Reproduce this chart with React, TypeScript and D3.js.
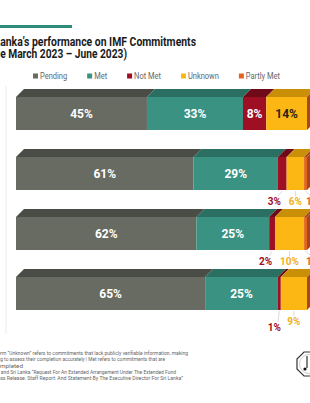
import { useEffect, useRef } from "react";
import * as d3 from "d3";

// rows are the review periods (labels sit outside the visible crop)
const rows = ["Review 1", "Review 2", "Review 3", "Review 4"];
const pending = [45, 61, 62, 65];
const met = [33, 29, 25, 25];
const notMet = [8, 3, 2, 1];
const unknown = [14, 6, 10, 9];
const partlyMet = [0, 1, 1, 0];

const keys = ["Pending", "Met", "Not Met", "Unknown", "Partly Met"];
const frontColors = ["#686b61", "#3a9282", "#9e0f24", "#fdb714", "#e2661f"];
const topColors = ["#4a4d45", "#2b6e62", "#6f0a18", "#c98f07", "#a8481a"];
const labelColors = ["#fff", "#fff", "#9e0f24", "#f2b01c", "#e2661f"];

const titleLines = [
  "Sri Lanka\u2019s performance on IMF Commitments",
  "(Since March 2023 \u2013 June 2023)",
];
const noteLines = [
  "Note: The term \u201CUnknown\u201D refers to commitments that lack publicly verifiable information, making",
  "it challenging to assess their completion accurately | Met refers to commitments that are",
  "completed",
  "Source: IMF and Sri Lanka \u201CRequest For An Extended Arrangement Under The Extended Fund",
  "Facility \u2013 Press Release: Staff Report: And Statement By The Executive Director For Sri Lanka\u201D",
];

const FONT = "Roboto, 'DejaVu Sans', sans-serif";

export default function App() {
  const ref = useRef<SVGSVGElement>(null);

  useEffect(() => {
    const svg = d3.select(ref.current);
    svg.selectAll("*").remove();

    svg.append("rect").attr("width", 310).attr("height", 403).attr("fill", "#fff");

    // draws a text line whose right end sits at rx and whose visible part (from
    // character `cut`) fills width w, squeezing the font to look condensed
    const fitLine = (
      text: string,
      cut: number,
      rx: number,
      by: number,
      w: number,
      size: number,
      weight: string,
      fill: string
    ) => {
      const probe = svg
        .append("text")
        .attr("font-family", FONT)
        .attr("font-size", size)
        .attr("font-weight", weight)
        .text(text.slice(cut));
      const len = (probe.node() as SVGTextElement).getComputedTextLength();
      probe.remove();
      const s = w / len;
      svg
        .append("g")
        .attr("transform", `translate(${rx},${by}) scale(${s},1)`)
        .append("text")
        .attr("text-anchor", "end")
        .attr("font-family", FONT)
        .attr("font-size", size)
        .attr("font-weight", weight)
        .attr("fill", fill)
        .text(text);
    };

    // header accent
    svg.append("rect").attr("x", 0).attr("y", 25).attr("width", 72).attr("height", 3).attr("fill", "#2e8c7b");

    fitLine(titleLines[0], 5, 196, 46, 196, 12.5, "700", "#1b1b1b");
    fitLine(titleLines[1], 5, 127, 58, 127, 12.5, "700", "#1b1b1b");

    // legend
    const legend = svg.append("g").attr("font-family", FONT).attr("font-size", 8.5).attr("fill", "#666");
    let lx = 33;
    keys.forEach((k, i) => {
      legend.append("rect").attr("x", lx).attr("y", 73.5).attr("width", 5).attr("height", 5).attr("fill", frontColors[i]);
      const t = legend.append("text").attr("x", lx + 7).attr("y", 79).text(k);
      const len = (t.node() as SVGTextElement).getComputedTextLength();
      t.attr("transform", `translate(${lx + 7},0) scale(0.88,1) translate(${-(lx + 7)},0)`);
      lx += 7 + len * 0.88 + 20;
    });

    // left rule
    svg.append("line").attr("x1", 6).attr("x2", 6).attr("y1", 86).attr("y2", 334).attr("stroke", "#ececec");

    const table = rows.map((r, i) => ({
      row: r,
      Pending: pending[i],
      Met: met[i],
      "Not Met": notMet[i],
      Unknown: unknown[i],
      "Partly Met": partlyMet[i],
    }));
    const series = d3.stack<any>().keys(keys)(table);

    const x = d3.scaleLinear().domain([0, 100]).range([16, 307]);
    const y = d3.scaleBand<string>().domain(rows).range([97, 310]).paddingInner(0.45);
    const h = y.bandwidth();
    const dx = 8;
    const dy = 8;

    const bars = svg.append("g");
    series.forEach((s, k) => {
      s.forEach((d) => {
        const x0 = x(d[0]);
        const x1 = x(d[1]);
        if (x1 - x0 <= 0) return;
        const y0 = y(d.data.row) as number;
        bars
          .append("path")
          .attr("d", `M${x0},${y0}L${x1},${y0}L${x1 + dx},${y0 - dy}L${x0 + dx},${y0 - dy}Z`)
          .attr("fill", topColors[k]);
        bars.append("rect").attr("x", x0).attr("y", y0).attr("width", x1 - x0).attr("height", h).attr("fill", frontColors[k]);
      });
    });
    // right side face
    rows.forEach((r) => {
      const xe = x(100);
      const y0 = y(r) as number;
      bars
        .append("path")
        .attr("d", `M${xe},${y0}L${xe + dx},${y0 - dy}L${xe + dx},${y0 + h - dy}L${xe},${y0 + h}Z`)
        .attr("fill", topColors[4]);
    });

    // value labels: small segments go below the bar when the row has a tiny slice
    const labels = svg.append("g").attr("font-family", FONT).attr("font-weight", 700);
    series.forEach((s, k) => {
      s.forEach((d, i) => {
        const v = d[1] - d[0];
        if (v <= 0) return;
        const x0 = x(d[0]);
        const x1 = x(d[1]);
        const y0 = y(d.data.row) as number;
        const cx = (x0 + x1) / 2;
        const crowded = Math.min(notMet[i], unknown[i]) < 5;
        if (k < 2 || !crowded) {
          labels
            .append("text")
            .attr("x", cx)
            .attr("y", y0 + h / 2 + 4.5)
            .attr("text-anchor", "middle")
            .attr("font-size", 12)
            .attr("fill", k === 3 ? "#2a2215" : "#fff")
            .text(`${v}%`);
          return;
        }
        const by = y0 + h + (v < 2 && k === 2 ? 21 : 15);
        let tx = cx;
        let anchor = "middle";
        if (k === 2) {
          tx = x0 + 3;
          anchor = "end";
        } else if (k === 4) {
          tx = x0 + 2;
          anchor = "start";
        }
        const lxm = anchor === "end" ? tx - 6 : anchor === "start" ? tx + 5 : tx;
        labels
          .append("line")
          .attr("x1", cx)
          .attr("y1", y0 + h + 1)
          .attr("x2", lxm + (cx > lxm ? 3 : 0))
          .attr("y2", by - 9)
          .attr("stroke", "#c9ccd2")
          .attr("stroke-width", 0.7);
        labels
          .append("text")
          .attr("x", tx)
          .attr("y", by)
          .attr("text-anchor", anchor)
          .attr("font-size", 10)
          .attr("fill", labelColors[k])
          .text(`${v}%`);
      });
    });

    // notes
    const cuts = [12, 13, 2, 12, 14];
    const ends = [188, 165, 23, 176, 183];
    noteLines.forEach((t, i) => {
      fitLine(t, cuts[i], ends[i], 355 + i * 6.3, ends[i], 5.8, "400", "#666");
    });

    // logo
    const logo = svg.append("g").attr("transform", "translate(309,364)");
    const oct = d3.range(8).map((i) => {
      const a = (Math.PI / 4) * i + Math.PI / 8;
      return [13 * Math.cos(a), 13 * Math.sin(a)] as [number, number];
    });
    logo.append("path").attr("d", d3.line()(oct) + "Z").attr("fill", "#fff").attr("stroke", "#333").attr("stroke-width", 1.2);
    logo.append("circle").attr("r", 9.5).attr("fill", "none").attr("stroke", "#ccc").attr("stroke-width", 1);
    logo.append("line").attr("x1", -2).attr("x2", -2).attr("y1", -8).attr("y2", 4).attr("stroke", "#333").attr("stroke-width", 1.2);
    logo.append("circle").attr("cx", -4).attr("cy", 5).attr("r", 1.6).attr("fill", "#111");
  }, []);

  return (
    <svg
      ref={ref}
      width={310}
      height={403}
      style={{ position: "absolute", left: 0, top: 0, display: "block" }}
    />
  );
}
